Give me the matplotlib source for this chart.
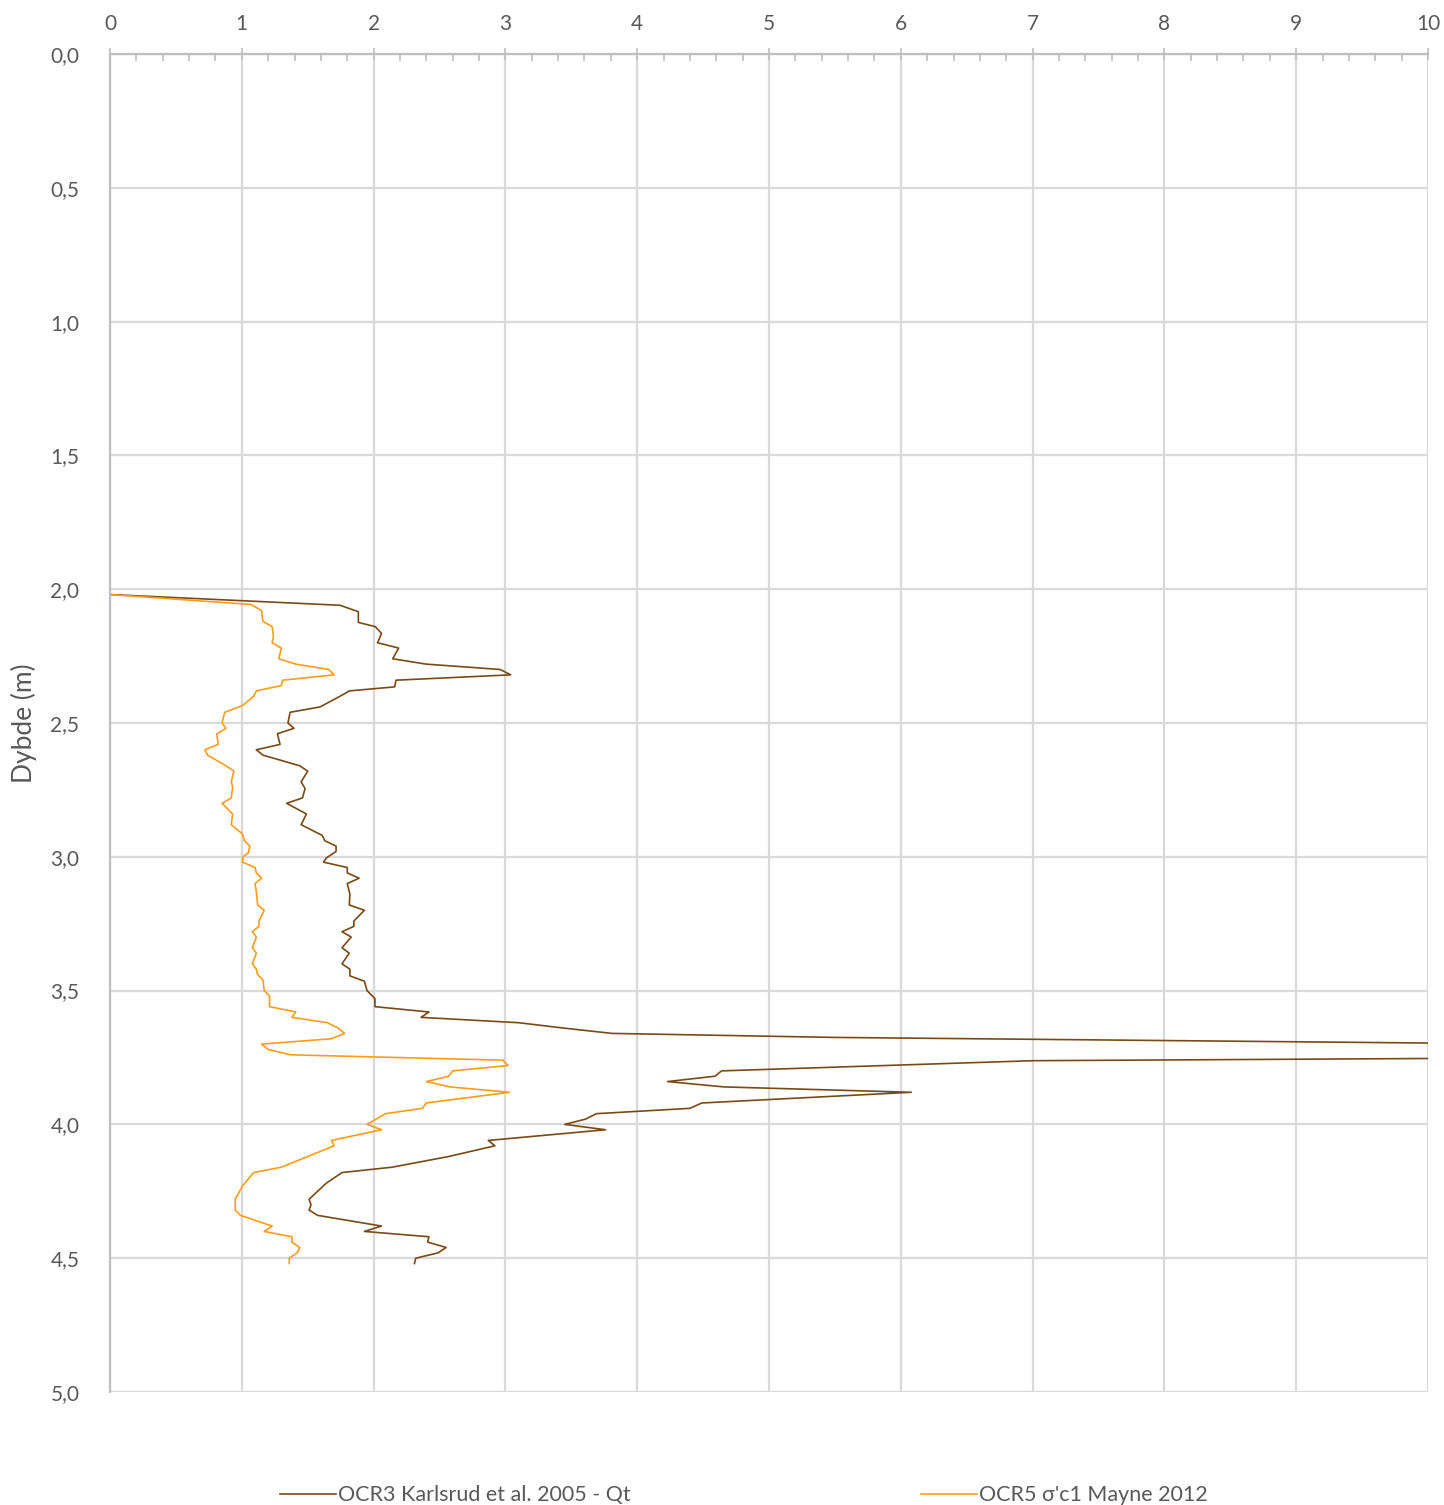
import matplotlib
matplotlib.use("Agg")
import matplotlib.pyplot as plt
from matplotlib.ticker import MultipleLocator, FuncFormatter

# OCR3 Karlsrud et al. 2005 - Qt  (value, depth)
ocr3_x = [0.0, 0.0, 1.745, 1.884, 1.884, 2.013, 2.06, 2.03, 2.19, 2.145, 2.40, 2.96, 3.04,
          2.17, 2.16, 1.816, 1.745, 1.593, 1.366, 1.35, 1.396, 1.27, 1.29, 1.11, 1.16,
          1.44, 1.50, 1.45, 1.48, 1.46, 1.34, 1.49, 1.45, 1.61, 1.63, 1.715, 1.715, 1.64,
          1.62, 1.80, 1.80, 1.89, 1.80, 1.82, 1.815, 1.93, 1.85, 1.85, 1.76, 1.83, 1.76,
          1.815, 1.76, 1.82, 1.82, 1.93, 1.95, 2.01, 2.01, 2.42, 2.36, 3.10, 3.44, 3.81,
          5.5, 13.0, 15.0, 7.0, 4.64, 4.59, 4.23, 4.66, 6.08, 4.49, 4.40, 3.69, 3.61,
          3.45, 3.76, 2.87, 2.92, 2.57, 2.14, 1.76, 1.64, 1.51, 1.525, 1.51, 1.575, 2.06,
          1.93, 2.42, 2.41, 2.55, 2.49, 2.32, 2.31]
ocr3_d = [2.00, 2.02, 2.06, 2.084, 2.124, 2.14, 2.165, 2.20, 2.22, 2.26, 2.28, 2.30, 2.32,
          2.34, 2.365, 2.38, 2.40, 2.44, 2.46, 2.50, 2.52, 2.54, 2.58, 2.60, 2.62,
          2.66, 2.68, 2.72, 2.745, 2.78, 2.80, 2.84, 2.88, 2.92, 2.94, 2.96, 2.98, 3.005,
          3.02, 3.04, 3.06, 3.08, 3.10, 3.14, 3.18, 3.20, 3.24, 3.26, 3.28, 3.30, 3.34,
          3.36, 3.40, 3.42, 3.445, 3.465, 3.50, 3.53, 3.56, 3.58, 3.60, 3.62, 3.64, 3.66,
          3.675, 3.71, 3.74, 3.762, 3.80, 3.82, 3.84, 3.86, 3.88, 3.92, 3.94, 3.96, 3.98,
          4.00, 4.02, 4.06, 4.08, 4.12, 4.16, 4.18, 4.22, 4.28, 4.30, 4.32, 4.34, 4.38,
          4.40, 4.42, 4.44, 4.46, 4.48, 4.50, 4.52]

# OCR5 σ'c1 Mayne 2012  (value, depth)
ocr5_x = [0.0, 0.0, 1.07, 1.15, 1.16, 1.23, 1.24, 1.23, 1.30, 1.28, 1.41, 1.66, 1.70, 1.31,
          1.30, 1.11, 1.09, 1.005, 0.87, 0.85, 0.88, 0.81, 0.82, 0.72, 0.74, 0.88, 0.94,
          0.92, 0.93, 0.92, 0.85, 0.93, 0.92, 1.005, 1.02, 1.06, 1.05, 1.01, 1.005, 1.10,
          1.11, 1.15, 1.10, 1.11, 1.12, 1.17, 1.13, 1.13, 1.08, 1.11, 1.08, 1.11, 1.08,
          1.11, 1.12, 1.16, 1.17, 1.21, 1.21, 1.41, 1.38, 1.65, 1.73, 1.78, 1.68, 1.15,
          1.20, 1.37, 2.98, 3.02, 2.60, 2.57, 2.40, 2.58, 3.03, 2.40, 2.37, 2.09, 2.02,
          1.95, 2.06, 1.68, 1.70, 1.30, 1.09, 1.005, 0.95, 0.95, 0.99, 1.23, 1.17, 1.38,
          1.38, 1.44, 1.42, 1.36, 1.36]
ocr5_d = [2.00, 2.02, 2.057, 2.08, 2.12, 2.14, 2.174, 2.20, 2.22, 2.26, 2.28, 2.30, 2.32, 2.34,
          2.36, 2.38, 2.40, 2.435, 2.46, 2.50, 2.52, 2.54, 2.58, 2.60, 2.62, 2.66, 2.68,
          2.72, 2.74, 2.78, 2.80, 2.84, 2.88, 2.915, 2.94, 2.96, 2.985, 3.00, 3.02, 3.04,
          3.06, 3.08, 3.10, 3.13, 3.18, 3.20, 3.24, 3.26, 3.28, 3.30, 3.34, 3.36, 3.40,
          3.42, 3.44, 3.46, 3.50, 3.52, 3.56, 3.58, 3.60, 3.62, 3.64, 3.66, 3.68, 3.70,
          3.72, 3.74, 3.76, 3.78, 3.80, 3.82, 3.84, 3.86, 3.88, 3.92, 3.94, 3.96, 3.98,
          4.00, 4.02, 4.06, 4.08, 4.16, 4.18, 4.23, 4.28, 4.32, 4.34, 4.38, 4.40, 4.42,
          4.44, 4.46, 4.48, 4.50, 4.52]

labels = ["OCR3 Karlsrud et al. 2005 - Qt", "OCR5 σ'c1 Mayne 2012"]
colors = ["#7a4a14", "#ff9c1a"]

plt.rcParams.update({
    "font.family": ["Lato", "DejaVu Sans"],
    "text.color": "#595959",
    "axes.labelcolor": "#595959",
    "xtick.color": "#595959",
    "ytick.color": "#595959",
})

fig = plt.figure(figsize=(14.44, 15.05), dpi=100)
ax = fig.add_axes([0.0762, 0.0751, 0.9127, 0.889])

ax.plot(ocr3_x, ocr3_d, color=colors[0], lw=1.2, label=labels[0])
ax.plot(ocr5_x, ocr5_d, color=colors[1], lw=1.2, label=labels[1])

ax.set_xlim(0, 10)
ax.set_ylim(5, 0)
ax.xaxis.tick_top()
ax.xaxis.set_major_locator(MultipleLocator(1))
ax.xaxis.set_minor_locator(MultipleLocator(0.2))
ax.yaxis.set_major_locator(MultipleLocator(0.5))
ax.yaxis.set_major_formatter(FuncFormatter(lambda v, p: f"{v:.1f}".replace(".", ",")))

ax.tick_params(axis="x", which="major", direction="inout", length=9, width=1.2,
               color="#bfbfbf", labelsize=15, pad=10)
ax.tick_params(axis="x", which="minor", direction="in", length=5, width=1.2, color="#bfbfbf")
ax.tick_params(axis="y", length=0, labelsize=15, pad=22)

ax.grid(True, which="major", color="#d9d9d9", lw=1.6)
ax.set_axisbelow(True)
for s in ["right", "bottom"]:
    ax.spines[s].set_visible(False)
for s in ["top", "left"]:
    ax.spines[s].set_color("#bfbfbf")
    ax.spines[s].set_linewidth(1.6)

ax.set_ylabel("Dybde (m)", fontsize=19, labelpad=10)

fig.legend(loc="lower center", bbox_to_anchor=(0.515, -0.013), ncol=2, frameon=False,
           fontsize=15.5, handlelength=2.6, handletextpad=0.1, columnspacing=13.5)

fig.savefig("out.png", dpi=100)
